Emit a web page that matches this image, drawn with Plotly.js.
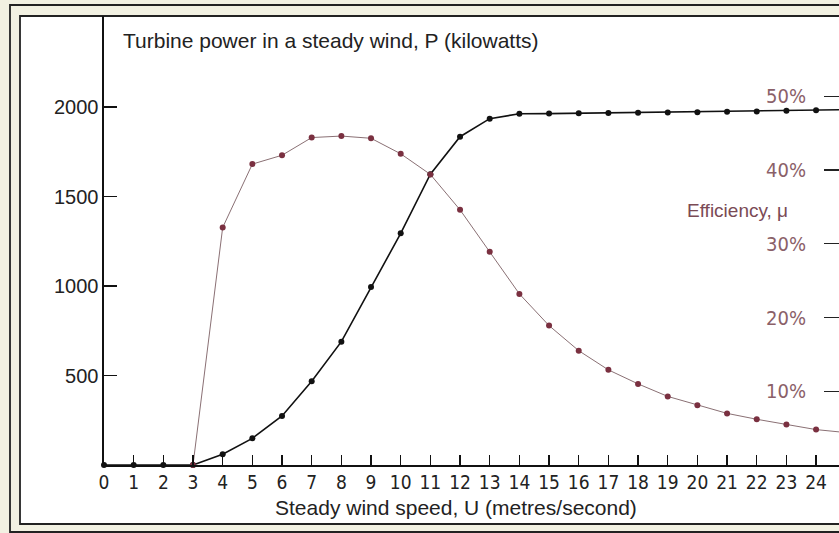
<!DOCTYPE html>
<html>
<head>
<meta charset="utf-8">
<script src="https://cdn.plot.ly/plotly-3.0.1.min.js"></script>
<style>html,body{margin:0;padding:0;background:#fff;overflow:hidden}</style>
</head>
<body>
<div id="chart" style="width:839px;height:533px"></div>
<script>
// wind speed (m/s)
const windSpeed = [0,1,2,3,4,5,6,7,8,9,10,11,12,13,14,15,16,17,18,19,20,21,22,23,24,25];
// turbine power P (kW)
const powerKW = [0,0,0,0,60,149,274,468,689,994,1294,1625,1834,1935,1962,1963,1965,1966,1968,1969,1971,1973,1975,1979,1982,1985];
// efficiency mu (%)
const efficiencyPct = [null,null,null,0,32.2,40.8,42.0,44.4,44.6,44.3,42.2,39.4,34.6,28.9,23.2,18.9,15.5,12.9,11.0,9.3,8.1,7.0,6.2,5.5,4.8,4.4];

const powerTicks = [500,1000,1500,2000];
const effTicks = [10,20,30,40,50];
const effTickText = ['10%','20%','30%','40%','50%'];
const xTicks = [0,1,2,3,4,5,6,7,8,9,10,11,12,13,14,15,16,17,18,19,20,21,22,23,24];

const chartTitle = 'Turbine power in a steady wind, P (kilowatts)';
const xTitle = 'Steady wind speed, U (metres/second)';
const effTitle = 'Efficiency, \u03bc';

const W = 839, H = 533;
const L = 104, R = 839, T = 16, B = 465;
const px = v => (v - L) / (R - L);
const py = v => (B - v) / (B - T);

const sans = '"Liberation Sans", Arial, sans-serif';
const narrow = '"Liberation Sans Narrow", "DejaVu Sans Condensed", sans-serif';
const maroon = '#7a3040';

const traces = [
  {
    x: windSpeed, y: powerKW, type: 'scatter', mode: 'lines+markers',
    line: {color: '#111', width: 1.6},
    marker: {color: '#111', size: 6},
    cliponaxis: false, yaxis: 'y', hoverinfo: 'skip'
  },
  {
    x: windSpeed, y: efficiencyPct, type: 'scatter', mode: 'lines+markers',
    line: {color: '#8a7074', width: 1},
    marker: {color: maroon, size: 6},
    cliponaxis: false, yaxis: 'y2', hoverinfo: 'skip', connectgaps: false
  }
];

const layout = {
  width: W, height: H,
  margin: {l: L, r: W - R, t: T, b: H - B},
  paper_bgcolor: '#f2f1e2',
  plot_bgcolor: 'rgba(0,0,0,0)',
  showlegend: false,
  title: {
    text: chartTitle,
    font: {family: sans, size: 21, color: '#222'},
    xref: 'paper', x: px(123), xanchor: 'left',
    yref: 'container', y: 1 - 41 / H, yanchor: 'middle'
  },
  xaxis: {
    range: [0, (R - L) / 29.67],
    tickvals: xTicks, ticktext: xTicks.map(String),
    ticks: 'inside', ticklen: 10, tickwidth: 1.2, tickcolor: '#111',
    showline: true, linecolor: '#111', linewidth: 1.6,
    showgrid: false, zeroline: false,
    tickfont: {family: narrow, size: 19, color: '#222'}
  },
  yaxis: {
    range: [0, (B - T) / (89.5 / 500)],
    tickvals: powerTicks, ticktext: powerTicks.map(String),
    ticks: 'inside', ticklen: 13, tickwidth: 1.4, tickcolor: '#111',
    showline: true, linecolor: '#111', linewidth: 1.6,
    showgrid: false, zeroline: false,
    tickfont: {family: sans, size: 20, color: '#222'}
  },
  yaxis2: {
    overlaying: 'y', side: 'left', anchor: 'free', position: 1,
    range: [0, (B - T) / 7.375],
    tickvals: effTicks, ticktext: effTickText,
    ticks: 'outside', ticklen: 15, tickwidth: 1.4, tickcolor: '#222',
    ticklabelstandoff: 14,
    showline: false, showgrid: false, zeroline: false,
    tickfont: {family: narrow, size: 20, color: '#8a6068'}
  },
  annotations: [
    {text: xTitle, xref: 'paper', yref: 'paper', x: px(456), y: py(507),
     xanchor: 'center', yanchor: 'middle', showarrow: false,
     font: {family: sans, size: 21, color: '#222'}},
    {text: effTitle, xref: 'paper', yref: 'paper', x: px(737), y: py(210),
     xanchor: 'center', yanchor: 'middle', showarrow: false,
     font: {family: sans, size: 19, color: '#7a4a55'}}
  ],
  shapes: [
    {type: 'rect', xref: 'paper', yref: 'paper', layer: 'below',
     x0: px(20), x1: px(860), y0: py(524), y1: py(16),
     fillcolor: '#ffffff', line: {color: '#222', width: 1.8}},
    {type: 'rect', xref: 'paper', yref: 'paper', layer: 'below',
     x0: px(10), x1: px(870), y0: py(532), y1: py(5),
     fillcolor: 'rgba(0,0,0,0)', line: {color: '#222', width: 1.8}}
  ]
};

Plotly.newPlot('chart', traces, layout, {staticPlot: true, displayModeBar: false});
</script>
</body>
</html>
